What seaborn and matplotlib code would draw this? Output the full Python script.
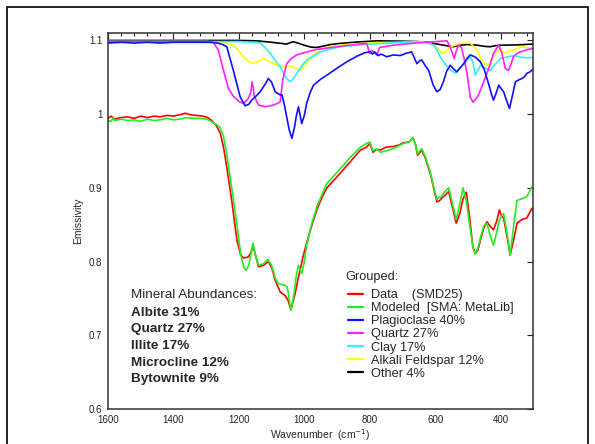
import numpy as np
import pandas as pd
import matplotlib
matplotlib.use("Agg")
import matplotlib.pyplot as plt
import seaborn as sns
from matplotlib.lines import Line2D
from matplotlib.ticker import MultipleLocator, FuncFormatter
from matplotlib.patches import Rectangle

# ---------------- data ----------------
wn_data = [1600, 1590, 1580, 1560, 1540, 1520, 1500, 1480, 1460, 1440, 1420, 1400, 1380, 1364, 1350, 1330,
           1310, 1295, 1283, 1270, 1257, 1247, 1237, 1222, 1206, 1195, 1187, 1172, 1163, 1157, 1150, 1140,
           1125, 1110, 1100, 1089, 1074, 1059, 1050, 1041, 1035, 1028, 1020, 1013, 1005, 993, 980, 962, 945,
           931, 910, 890, 860, 829, 810, 800, 790, 780, 768, 750, 727, 710, 697, 680, 668, 660, 654, 641, 630,
           615, 605, 595, 588, 580, 570, 559, 548, 536, 525, 515, 505, 495, 485, 478, 470, 462, 452, 442, 432,
           422, 412, 404, 398, 391, 381, 371, 360, 350, 335, 320, 305, 300]
data_vals = [0.994, 0.997, 0.993, 0.995, 0.996, 0.994, 0.997, 0.995, 0.997, 0.996, 0.998, 0.997, 0.999, 1.001,
             0.999, 0.998, 0.997, 0.995, 0.991, 0.985, 0.974, 0.955, 0.928, 0.883, 0.829, 0.810, 0.805, 0.806,
             0.812, 0.822, 0.810, 0.793, 0.795, 0.800, 0.792, 0.775, 0.759, 0.754, 0.748, 0.735, 0.745, 0.757,
             0.775, 0.788, 0.805, 0.825, 0.845, 0.870, 0.888, 0.900, 0.910, 0.920, 0.935, 0.951, 0.955, 0.960,
             0.948, 0.952, 0.951, 0.955, 0.956, 0.958, 0.961, 0.962, 0.968, 0.958, 0.944, 0.951, 0.940, 0.919,
             0.900, 0.881, 0.882, 0.886, 0.890, 0.895, 0.875, 0.852, 0.865, 0.885, 0.894, 0.860, 0.820, 0.811,
             0.815, 0.829, 0.845, 0.854, 0.848, 0.843, 0.855, 0.870, 0.862, 0.859, 0.835, 0.809, 0.830, 0.852,
             0.857, 0.859, 0.872, 0.868]

wn_model = [1600, 1590, 1585, 1580, 1560, 1540, 1520, 1500, 1480, 1460, 1440, 1420, 1400, 1380, 1360, 1340,
            1320, 1300, 1285, 1270, 1258, 1247, 1237, 1222, 1206, 1195, 1185, 1178, 1170, 1163, 1157, 1150,
            1140, 1125, 1112, 1100, 1089, 1080, 1059, 1052, 1041, 1032, 1025, 1018, 1008, 1000, 993, 980, 962,
            945, 931, 910, 890, 860, 829, 810, 800, 790, 780, 768, 750, 727, 710, 697, 680, 668, 660, 654, 641,
            630, 615, 605, 595, 588, 580, 570, 559, 548, 536, 525, 515, 505, 495, 485, 478, 470, 462, 452, 442,
            432, 422, 412, 404, 398, 391, 381, 371, 360, 350, 335, 320, 305, 300]
model_vals = [0.991, 0.990, 0.995, 0.991, 0.993, 0.991, 0.992, 0.990, 0.993, 0.991, 0.992, 0.994, 0.992, 0.993,
              0.995, 0.994, 0.994, 0.993, 0.990, 0.986, 0.982, 0.970, 0.945, 0.900, 0.850, 0.812, 0.792, 0.788,
              0.795, 0.810, 0.825, 0.810, 0.795, 0.797, 0.803, 0.795, 0.778, 0.770, 0.768, 0.765, 0.734, 0.755,
              0.780, 0.795, 0.784, 0.800, 0.822, 0.847, 0.874, 0.892, 0.906, 0.916, 0.926, 0.941, 0.955, 0.960,
              0.962, 0.950, 0.953, 0.948, 0.950, 0.953, 0.957, 0.960, 0.962, 0.968, 0.958, 0.946, 0.953, 0.942,
              0.921, 0.902, 0.884, 0.887, 0.889, 0.895, 0.900, 0.880, 0.857, 0.878, 0.900, 0.882, 0.850, 0.820,
              0.810, 0.818, 0.832, 0.848, 0.852, 0.835, 0.822, 0.840, 0.856, 0.862, 0.865, 0.840, 0.809, 0.850,
              0.883, 0.885, 0.888, 0.901, 0.900]

wn_plag = [1600, 1560, 1520, 1480, 1440, 1400, 1360, 1320, 1290, 1265, 1250, 1237, 1217, 1196, 1181, 1170,
           1160, 1148, 1135, 1120, 1110, 1100, 1089, 1075, 1068, 1060, 1054, 1046, 1038, 1030, 1025, 1018,
           1008, 1000, 993, 983, 972, 950, 931, 900, 870, 840, 815, 799, 792, 785, 775, 765, 748, 728, 707,
           690, 672, 664, 656, 648, 641, 630, 620, 607, 595, 585, 575, 565, 554, 544, 534, 523, 513, 503, 493,
           478, 462, 450, 437, 429, 422, 414, 406, 398, 391, 382, 373, 364, 355, 345, 335, 328, 320, 310, 300]
plag_vals = [1.096, 1.097, 1.096, 1.097, 1.096, 1.097, 1.097, 1.097, 1.097, 1.096, 1.094, 1.091, 1.059, 1.023,
             1.011, 1.013, 1.019, 1.024, 1.030, 1.040, 1.048, 1.043, 1.030, 1.026, 1.0255, 1.010, 0.996, 0.978,
             0.967, 0.982, 0.996, 1.0097, 0.987, 0.998, 1.0142, 1.028, 1.039, 1.047, 1.0526, 1.062, 1.0706,
             1.078, 1.083, 1.084, 1.081, 1.084, 1.079, 1.081, 1.0774, 1.080, 1.079, 1.082, 1.084, 1.076, 1.068,
             1.072, 1.073, 1.065, 1.059, 1.040, 1.030, 1.033, 1.0435, 1.058, 1.066, 1.061, 1.057, 1.063, 1.068,
             1.075, 1.080, 1.077, 1.0706, 1.060, 1.041, 1.028, 1.0187, 1.028, 1.039, 1.034, 1.030, 1.018,
             1.0074, 1.025, 1.0435, 1.046, 1.048, 1.050, 1.055, 1.057, 1.0616]

wn_quartz = [1600, 1500, 1400, 1300, 1278, 1263, 1247, 1232, 1217, 1200, 1186, 1171, 1163, 1160, 1156, 1153,
             1140, 1120, 1094, 1074, 1066, 1054, 1040, 1023, 1000, 962, 900, 860, 809, 801, 795, 789, 778, 770,
             727, 660, 605, 564, 554, 542, 536, 529, 520, 513, 503, 493, 485, 476, 468, 455, 442, 430, 422, 406,
             396, 386, 376, 368, 361, 350, 340, 320, 300]
quartz_vals = [1.098, 1.098, 1.098, 1.098, 1.097, 1.0865, 1.059, 1.0345, 1.024, 1.017, 1.014, 1.021, 1.030,
               1.0435, 1.035, 1.024, 1.012, 1.0097, 1.012, 1.016, 1.0458, 1.068, 1.075, 1.080, 1.083, 1.0874,
               1.091, 1.0932, 1.0955, 1.082, 1.086, 1.0842, 1.080, 1.090, 1.0932, 1.096, 1.0977, 1.099, 1.090,
               1.075, 1.085, 1.0932, 1.090, 1.0774, 1.055, 1.023, 1.016, 1.020, 1.0255, 1.040, 1.055, 1.070,
               1.082, 1.0932, 1.082, 1.0616, 1.059, 1.068, 1.0774, 1.082, 1.084, 1.087, 1.0887]

wn_clay = [1600, 1450, 1300, 1200, 1160, 1135, 1120, 1104, 1090, 1074, 1054, 1043, 1033, 1023, 1008, 993, 970,
           952, 920, 890, 820, 758, 700, 636, 605, 595, 585, 570, 559, 539, 525, 513, 493, 485, 478, 470, 462,
           450, 432, 415, 401, 380, 361, 340, 320, 300]
clay_vals = [1.098, 1.098, 1.098, 1.098, 1.097, 1.0962, 1.090, 1.082, 1.073, 1.0639, 1.048, 1.0435, 1.048,
             1.055, 1.065, 1.0729, 1.079, 1.084, 1.088, 1.091, 1.094, 1.0955, 1.097, 1.0977, 1.0932, 1.087,
             1.0774, 1.068, 1.0616, 1.055, 1.062, 1.068, 1.0774, 1.070, 1.0526, 1.058, 1.066, 1.063, 1.059,
             1.068, 1.075, 1.077, 1.079, 1.077, 1.076, 1.0765]

wn_alkali = [1600, 1450, 1300, 1260, 1240, 1217, 1200, 1186, 1170, 1156, 1140, 1125, 1110, 1094, 1080, 1064,
             1050, 1033, 1022, 1013, 1003, 993, 975, 952, 920, 890, 800, 707, 656, 620, 605, 590, 580, 568, 554,
             523, 493, 473, 462, 452, 437, 430, 422, 410, 401, 392, 386, 374, 361, 340, 320, 300]
alkali_vals = [1.098, 1.098, 1.098, 1.097, 1.096, 1.0932, 1.085, 1.0774, 1.071, 1.068, 1.071, 1.075, 1.072,
               1.068, 1.065, 1.064, 1.0645, 1.064, 1.0605, 1.059, 1.064, 1.0706, 1.079, 1.0865, 1.091, 1.0932,
               1.096, 1.097, 1.0977, 1.096, 1.0932, 1.088, 1.082, 1.084, 1.091, 1.0955, 1.096, 1.0865, 1.076,
               1.068, 1.066, 1.072, 1.079, 1.085, 1.0865, 1.084, 1.082, 1.085, 1.0865, 1.091, 1.090, 1.0887]

wn_other = [1600, 1400, 1200, 1145, 1100, 1070, 1054, 1040, 1033, 1020, 1000, 980, 962, 940, 920, 890, 850, 778,
            700, 656, 620, 605, 580, 560, 545, 525, 503, 470, 450, 432, 415, 401, 350, 300]
other_vals = [1.0995, 1.0995, 1.0995, 1.099, 1.097, 1.0955, 1.0946, 1.097, 1.0977, 1.096, 1.093, 1.0905, 1.090,
              1.092, 1.094, 1.0955, 1.097, 1.099, 1.0985, 1.098, 1.097, 1.0955, 1.0935, 1.092, 1.091, 1.093,
              1.094, 1.093, 1.0915, 1.091, 1.0925, 1.093, 1.0935, 1.0946]

series_names = ["Other", "Alkali Feldspar", "Clay", "Quartz", "Plagioclase", "Data", "Modeled"]
series_colors = ["#000000", "#ffff00", "#33eeff", "#ff22ff", "#1010ff", "#ff0000", "#22ee22"]

legend_labels = ["Data    (SMD25)", "Modeled  [SMA: MetaLib]", "Plagioclase 40%", "Quartz 27%",
                 "Clay 17%", "Alkali Feldspar 12%", "Other 4%"]
legend_keys = ["Data", "Modeled", "Plagioclase", "Quartz", "Clay", "Alkali Feldspar", "Other"]
legend_title = "Grouped:"

abund_title = "Mineral Abundances:"
abund_lines = ["Albite 31%", "Quartz 27%", "Illite 17%", "Microcline 12%", "Bytownite 9%"]

x_ticks = [1600, 1400, 1200, 1000, 800, 600, 400]
y_ticks = [0.6, 0.7, 0.8, 0.9, 1.0, 1.1]

# ---------------- build table ----------------
series_wn = {"Other": wn_other, "Alkali Feldspar": wn_alkali, "Clay": wn_clay, "Quartz": wn_quartz,
             "Plagioclase": wn_plag, "Data": wn_data, "Modeled": wn_model}
series_val = {"Other": other_vals, "Alkali Feldspar": alkali_vals, "Clay": clay_vals, "Quartz": quartz_vals,
              "Plagioclase": plag_vals, "Data": data_vals, "Modeled": model_vals}
frames = []
for name in series_names:
    frames.append(pd.DataFrame({"wn": series_wn[name], "val": series_val[name], "series": name}))
df = pd.concat(frames, ignore_index=True)
palette = dict(zip(series_names, series_colors))

# ---------------- plot ----------------
sns.set_theme(style="white")
plt.rcParams["font.family"] = ["Liberation Sans", "DejaVu Sans"]

W, H = 595, 444
fig = plt.figure(figsize=(W / 100, H / 100), dpi=100)
ax = fig.add_axes([108 / W, 1 - 409.3 / H, (533.4 - 108) / W, (409.3 - 32.7) / H])

sns.lineplot(data=df, x="wn", y="val", hue="series", hue_order=series_names, palette=palette,
             sort=False, estimator=None, legend=False, linewidth=1.2, ax=ax)

ax.set_xlim(1600, 300)
ax.set_ylim(0.6, 1.11)
ax.set_xticks(x_ticks)
ax.xaxis.set_minor_locator(MultipleLocator(40))
ax.set_yticks(y_ticks)
ax.yaxis.set_major_formatter(FuncFormatter(lambda v, p: f"{v:g}"))
ax.tick_params(which="both", direction="in", top=True, right=True, labelsize=7, colors="#222222")
ax.tick_params(which="major", length=4.5, width=0.8, pad=4)
ax.tick_params(which="minor", length=2.5, width=0.8)
for s in ax.spines.values():
    s.set_linewidth(1.1)
    s.set_color("#333333")
ax.set_xlabel("Wavenumber  (cm$^{-1}$)", fontsize=7.5, labelpad=2)
ax.set_ylabel("Emissivity", fontsize=7.5, labelpad=4)

handles = [Line2D([], [], color=palette[k], lw=1.6) for k in legend_keys]
leg = ax.legend(handles, legend_labels, loc="upper left",
                bbox_to_anchor=((348 - 108) / 425.4, (409.3 - 289) / 376.6),
                frameon=False, fontsize=9.2,
                handlelength=1.2, handletextpad=0.6, labelspacing=0.09, borderpad=0,
                borderaxespad=0)
fig.text(345 / W, 1 - 276.7 / H, legend_title, fontsize=9.2, va="center", ha="left")

fig.text(130.7 / W, 1 - 295 / H, abund_title, fontsize=9.7, va="center", ha="left")
for i, line in enumerate(abund_lines):
    fig.text(130.7 / W, 1 - (312.7 + i * 16.6) / H, line, fontsize=9.7, fontweight="bold",
             va="center", ha="left")

fig.patches.append(Rectangle((7 / W, -0.05), (588 - 7) / W, 1 - 7 / H + 0.05, transform=fig.transFigure,
                             fill=False, edgecolor="black", linewidth=1.2))

fig.savefig("out.png", dpi=100)
